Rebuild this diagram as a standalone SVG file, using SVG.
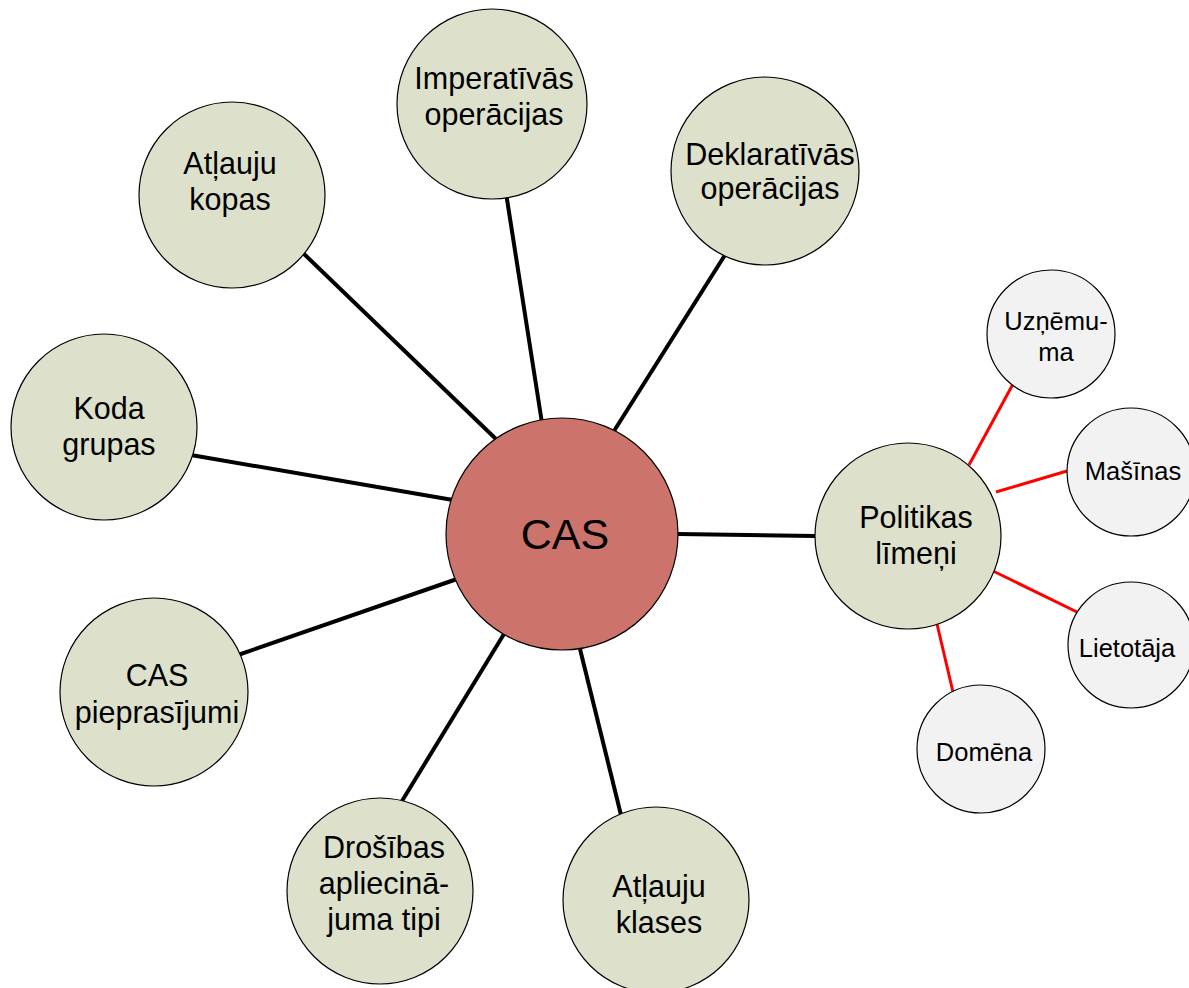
<svg xmlns="http://www.w3.org/2000/svg" width="1189" height="988" viewBox="0 0 1189 988">
  <style>
    .bg { fill: #ffffff; }
    .node { fill: #dde0cb; stroke: #000000; stroke-width: 1.2; }
    .leaf { fill: #f2f2f2; stroke: #000000; stroke-width: 1.2; }
    .hub { fill: #cc736b; stroke: #000000; stroke-width: 1.2; }
    .link { stroke: #000000; stroke-width: 4; stroke-linecap: butt; fill: none; }
    .sublink { stroke: #ff0000; stroke-width: 3; stroke-linecap: butt; fill: none; }
    text { font-family: "Liberation Sans", Arial, sans-serif; fill: #000000; text-anchor: middle; }
    .lbl { font-size: 30.5px; }
    .small { font-size: 25.5px; }
    .big { font-size: 43px; }
  </style>

  <rect class="bg" x="0" y="0" width="1189" height="988"/>

  <!-- connectors -->
  <g id="connectors">
    <line class="link" x1="302" y1="252" x2="497" y2="440"/>
    <line class="link" x1="506" y1="193" x2="542" y2="423"/>
    <line class="link" x1="725" y1="255" x2="614" y2="431"/>
    <line class="link" x1="191" y1="455" x2="453" y2="500"/>
    <line class="link" x1="238" y1="655" x2="457" y2="579"/>
    <line class="link" x1="402" y1="801" x2="504" y2="634"/>
    <line class="link" x1="621" y1="815" x2="580" y2="649"/>
    <line class="link" x1="678" y1="534" x2="815" y2="536"/>
    <line class="sublink" x1="969" y1="465" x2="1013" y2="384"/>
    <line class="sublink" x1="996" y1="492" x2="1067" y2="471"/>
    <line class="sublink" x1="993" y1="571" x2="1077" y2="612"/>
    <line class="sublink" x1="937" y1="624" x2="953" y2="692"/>
  </g>

  <!-- centre -->
  <g id="cas">
    <circle class="hub" cx="562" cy="534" r="116"/>
    <text class="big" x="565" y="549">CAS</text>
  </g>

  <!-- first-level nodes -->
  <g id="atlauju-kopas">
    <circle class="node" cx="232" cy="195" r="93"/>
    <text class="lbl" x="230" y="174">Atļauju</text>
    <text class="lbl" x="230" y="210">kopas</text>
  </g>

  <g id="imperativas">
    <circle class="node" cx="492" cy="104" r="95"/>
    <text class="lbl" x="494" y="89">Imperatīvās</text>
    <text class="lbl" x="494" y="125">operācijas</text>
  </g>

  <g id="deklarativas">
    <circle class="node" cx="765" cy="171" r="94"/>
    <text class="lbl" x="770" y="165">Deklaratīvās</text>
    <text class="lbl" x="770" y="199">operācijas</text>
  </g>

  <g id="koda-grupas">
    <circle class="node" cx="104" cy="427" r="93"/>
    <text class="lbl" x="109" y="419">Koda</text>
    <text class="lbl" x="109" y="455">grupas</text>
  </g>

  <g id="cas-pieprasijumi">
    <circle class="node" cx="154" cy="692" r="94"/>
    <text class="lbl" x="157" y="686">CAS</text>
    <text class="lbl" x="157" y="723">pieprasījumi</text>
  </g>

  <g id="drosibas">
    <circle class="node" cx="380" cy="891" r="93"/>
    <text class="lbl" x="384" y="858">Drošības</text>
    <text class="lbl" x="384" y="894">apliecinā-</text>
    <text class="lbl" x="384" y="930">juma tipi</text>
  </g>

  <g id="atlauju-klases">
    <circle class="node" cx="656" cy="900" r="93"/>
    <text class="lbl" x="659" y="897">Atļauju</text>
    <text class="lbl" x="659" y="933">klases</text>
  </g>

  <g id="politikas">
    <circle class="node" cx="908" cy="536" r="93"/>
    <text class="lbl" x="916" y="528">Politikas</text>
    <text class="lbl" x="916" y="564">līmeņi</text>
  </g>

  <!-- policy levels -->
  <g id="uznemuma">
    <circle class="leaf" cx="1051" cy="334" r="64"/>
    <text class="small" x="1056" y="330">Uzņēmu-</text>
    <text class="small" x="1056" y="361">ma</text>
  </g>

  <g id="masinas">
    <circle class="leaf" cx="1131" cy="472" r="64"/>
    <text class="small" x="1133" y="480">Mašīnas</text>
  </g>

  <g id="lietotaja">
    <circle class="leaf" cx="1131" cy="645" r="63"/>
    <text class="small" x="1127" y="657">Lietotāja</text>
  </g>

  <g id="domena">
    <circle class="leaf" cx="981" cy="749" r="64"/>
    <text class="small" x="984" y="761">Domēna</text>
  </g>
</svg>
